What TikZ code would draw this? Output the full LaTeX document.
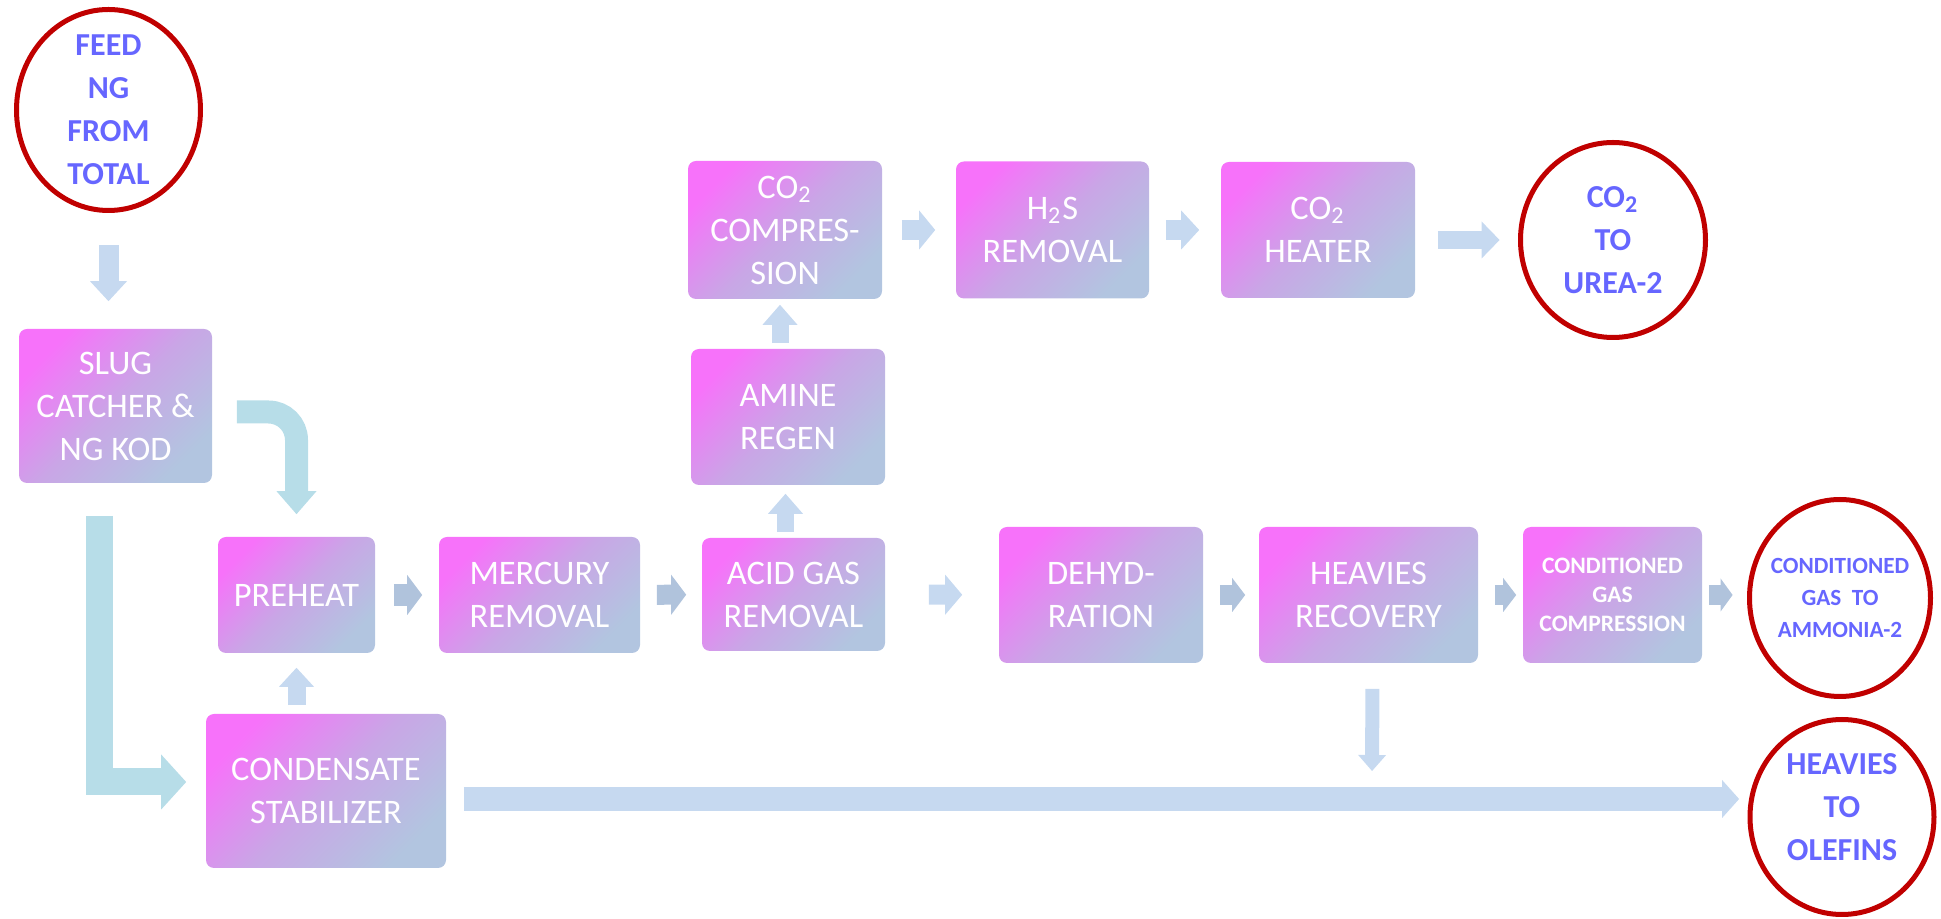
\documentclass[tikz,border=0pt]{standalone}
\usepackage{fontspec}
\setmainfont{Carlito}
\usetikzlibrary{shapes.geometric,arrows.meta}
\definecolor{boxtop}{HTML}{F772FA}
\definecolor{boxmid}{HTML}{C9A6E6}
\definecolor{boxbot}{HTML}{B2C5E0}
\definecolor{flowlt}{HTML}{C6D9F0}
\definecolor{flowdk}{HTML}{B0C3DC}
\definecolor{flowtl}{HTML}{B7DDE8}
\definecolor{ringred}{HTML}{C00000}
\definecolor{labblue}{HTML}{6666FF}
\tikzstyle{unit}=[rectangle,rounded corners=2pt,top color=boxtop,bottom color=boxbot,middle color=boxmid,shading angle=45,text=white,align=center,inner sep=0pt,font=\fontsize{8.6}{10.75}\selectfont]
\tikzstyle{unitb}=[unit,font=\bfseries\fontsize{5.9}{7.3}\selectfont]
\tikzstyle{outlet}=[ellipse,draw=ringred,line width=1.25pt,inner sep=0pt]
\tikzstyle{outtxt}=[text=labblue,align=center,font=\bfseries\fontsize{8}{10.75}\selectfont]
\tikzset{blk/.style n args={3}{line width=#1,-{Triangle[width=#2,length=#3,line width=0pt]}}}

\begin{document}
\begin{tikzpicture}[x=0.25pt,y=-0.25pt]
\useasboundingbox (0,0) rectangle (1941,919);
% outlets
\node[outlet,minimum width=46pt,minimum height=50.25pt,label={[outtxt]center:FEED\\NG\\FROM\\TOTAL}] (feed) at (108.5,110) {};
\node[outlet,minimum width=46.25pt,minimum height=48.75pt,label={[outtxt]center:CO\textsubscript{2}\\TO\\UREA-2}] (urea) at (1613,240) {};
\node[outlet,minimum width=45.25pt,minimum height=49.25pt,label={[outtxt,font=\bfseries\fontsize{5.8}{8}\selectfont]center:CONDITIONED\\GAS~ TO\\AMMONIA-2}] (ammo) at (1840,598) {};
\node[outlet,minimum width=46pt,minimum height=48.75pt,label={[outtxt,yshift=2.5pt]center:HEAVIES\\TO\\OLEFINS}] (olef) at (1842,817) {};
% units
\node[unit,minimum width=48.25pt,minimum height=38.5pt] (slug) at (115.5,406) {SLUG\\CATCHER \&\\NG KOD};
\node[unit,minimum width=39.25pt,minimum height=29pt] (pre) at (296.5,595) {PREHEAT};
\node[unit,minimum width=60pt,minimum height=38.5pt] (cond) at (326,791) {CONDENSATE\\STABILIZER};
\node[unit,minimum width=50.25pt,minimum height=29pt] (mer) at (539.5,595) {MERCURY\\REMOVAL};
\node[unit,minimum width=45.75pt,minimum height=28.25pt] (acid) at (793.5,594.5) {ACID GAS\\REMOVAL};
\node[unit,minimum width=48.5pt,minimum height=34pt] (amine) at (788,417) {AMINE\\REGEN};
\node[unit,minimum width=48.5pt,minimum height=34.5pt] (comp) at (785,230) {CO\textsubscript{2}\\COMPRES-\\SION};
\node[unit,minimum width=48.25pt,minimum height=34.25pt] (h2s) at (1052.5,230) {H\textsubscript{2}S\\REMOVAL};
\node[unit,minimum width=48.5pt,minimum height=34pt] (heat) at (1318,230) {CO\textsubscript{2}\\HEATER};
\node[unit,minimum width=51pt,minimum height=34pt] (dehyd) at (1101,595) {DEHYD-\\RATION};
\node[unit,minimum width=54.75pt,minimum height=34pt] (heav) at (1368.5,595) {HEAVIES\\RECOVERY};
\node[unitb,minimum width=44.75pt,minimum height=34pt] (ccomp) at (1612.5,595) {CONDITIONED\\GAS\\COMPRESSION};
\coordinate (tap) at (1372,787);
% flows
\draw[flowlt,blk={5pt}{9.25pt}{5pt},shorten <=8.1pt,shorten >=6.75pt] (feed.south) -- (feed.south |- slug.north);
\draw[flowtl,blk={5.75pt}{10pt}{5.75pt},rounded corners=7pt] ([xshift=6pt,yshift=-1.5pt]slug.east) -| ([yshift=5.5pt]pre.north);
\draw[flowtl,blk={6.75pt}{13.75pt}{6.25pt}] ([xshift=-4pt,yshift=-8pt]slug.south) |- ([xshift=-4.75pt,yshift=2.25pt]cond.west);
\draw[flowlt,blk={4.5pt}{8.75pt}{4.75pt},shorten <=2pt,shorten >=3.5pt] (pre.south |- cond.north) -- (pre.south);
\draw[flowdk,blk={5.5pt}{10pt}{3.75pt},shorten <=4.5pt,shorten >=4pt] (pre) -- (mer);
\draw[flowdk,blk={5pt}{10pt}{3.75pt},shorten <=4pt,shorten >=3.75pt] (mer) -- (acid);
\draw[flowlt,blk={4.25pt}{8.75pt}{5pt},shorten <=1.25pt,shorten >=2pt] ([xshift=-2pt]acid.north) -- ([xshift=-2pt]acid.north |- amine.south);
\draw[flowlt,blk={4.25pt}{8.75pt}{5pt},shorten <=1.25pt,shorten >=1.25pt] ([xshift=-2pt]amine.north) -- ([xshift=-2pt]amine.north |- comp.south);
\draw[flowlt,blk={5pt}{9.75pt}{4pt},shorten <=4.75pt,shorten >=5pt] (comp) -- (h2s);
\draw[flowlt,blk={5pt}{9.75pt}{4.5pt},shorten <=4pt,shorten >=5.25pt] (h2s) -- (heat);
\draw[flowlt,blk={4.5pt}{9.25pt}{4.5pt},shorten <=5.5pt,shorten >=4.6pt] (heat.east |- urea) -- (urea);
\draw[flowlt,blk={5pt}{10pt}{4.25pt},shorten <=10.75pt,shorten >=9pt] (acid) -- (dehyd);
\draw[flowdk,blk={5pt}{8.5pt}{3.25pt},shorten <=4pt,shorten >=3.25pt] (dehyd) -- (heav);
\draw[flowdk,blk={5pt}{8.5pt}{3.25pt},shorten <=4pt,shorten >=1.5pt] (heav) -- (ccomp);
\draw[flowdk,blk={5pt}{8.25pt}{3pt},shorten <=1.5pt,shorten >=3.6pt] (ccomp.east) -- (ccomp.east -| ammo.west);
\draw[flowlt,blk={3.5pt}{7pt}{4pt},shorten <=6.25pt,shorten >=4pt] ([xshift=1pt]heav.south) -- (tap);
\draw[flowlt,blk={6pt}{9.5pt}{4.25pt},shorten <=4.25pt,shorten >=2.1pt] ([yshift=-2pt]cond.east) -- ([yshift=-2pt]cond.east -| olef.west);
\end{tikzpicture}
\end{document}
